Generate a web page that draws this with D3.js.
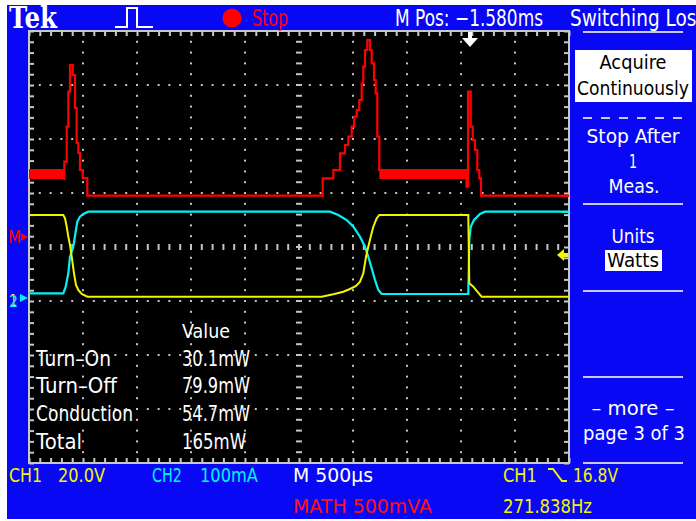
<!DOCTYPE html>
<html>
<head>
<meta charset="utf-8">
<script src="https://cdn.jsdelivr.net/npm/d3@7"></script>
<style>
  body { margin: 0; background: #fff; }
  text { font-family: "DejaVu Sans", sans-serif; }
</style>
</head>
<body>
<div id="scope"></div>
<script>
// traces, in divisions: x 0..10 (500us/div), y -4..4 from centre
var mathTrace = [[0.640,1.259],[0.654,1.580],[0.698,2.228],[0.728,2.876],[0.759,3.370],[0.809,3.185],
    [0.852,2.574],[0.883,1.926],[0.913,1.741],[0.944,1.426],[0.994,1.278],[1.080,0.950],
    [5.439,1.272],[5.635,1.426],[5.759,1.735],[5.852,1.889],[5.913,2.043],[5.976,2.228],
    [6.019,2.413],[6.069,2.537],[6.117,2.722],[6.161,3.031],[6.191,3.339],[6.222,3.648],
    [6.265,3.833],[6.315,3.648],[6.346,3.402],[6.389,3.093],[6.420,2.846],[6.450,2.043],
    [6.487,1.426],[8.102,1.117],[8.130,2.876],[8.180,2.228],[8.217,1.981],[8.259,1.796],
    [8.302,1.426],[8.339,1.272],[8.370,0.950],[10,0.950]];
// conduction band of the math trace: [x0, x1, yLow, yHigh]
var mathBands = [[0,0.654,1.259,1.444],[6.487,8.102,1.259,1.444]];

var ch1Trace = [[0,0.593],[0.635,0.593],[0.667,0.531],[0.698,0.376],[0.728,0.191],[0.759,0.037],
    [0.791,-0.180],[0.833,-0.487],[0.870,-0.704],[0.913,-0.796],[0.976,-0.870],[1.080,-0.920],
    [5.420,-0.920],[5.635,-0.876],[5.820,-0.828],[5.944,-0.778],[6.056,-0.722],[6.130,-0.643],
    [6.191,-0.487],[6.241,-0.180],[6.283,0.006],[6.328,0.191],[6.376,0.376],[6.439,0.531],
    [6.487,0.593],[8.135,0.593],[8.154,-0.672],[8.228,-0.735],[8.302,-0.828],[8.383,-0.920],[10,-0.920]];

var ch2Trace = [[0,-0.857],[0.635,-0.857],[0.680,-0.735],[0.728,-0.487],[0.759,-0.180],[0.820,0.006],
    [0.870,0.315],[0.894,0.469],[0.944,0.561],[1.006,0.611],[1.098,0.654],[5.574,0.654],
    [5.728,0.593],[5.883,0.5],[6.006,0.376],[6.130,0.191],[6.222,0.006],[6.283,-0.180],
    [6.346,-0.394],[6.407,-0.611],[6.469,-0.796],[6.531,-0.870],[8.135,-0.870],[8.154,0.130],
    [8.180,0.376],[8.241,0.5],[8.352,0.611],[8.444,0.654],[10,0.654]];

var measNames = ["Turn\u2013On", "Turn\u2013Off", "Conduction", "Total"];
var measValues = ["30.1mW", "79.9mW", "54.7mW", "165mW"];

var svgWidth = 696;
var svgHeight = 521;
var BLUE = "#0808f4";
var MENU = "#c8c8ec";

var svg = d3.select("#scope")
    .append("svg")
    .attr("width", svgWidth)
    .attr("height", svgHeight);

svg.append("rect").attr("x", 7).attr("y", 5).attr("width", 689).attr("height", 514).attr("fill", BLUE);

var x = d3.scaleLinear().domain([0, 10]).range([29, 569]);
var y = d3.scaleLinear().domain([-4, 4]).range([463, 31]);

svg.append("rect")
    .attr("x", x(0)).attr("y", y(4))
    .attr("width", x(10) - x(0)).attr("height", y(-4) - y(4))
    .attr("fill", "#000");

// graticule dots
var grid = svg.append("g").attr("fill", "#c4c4c4");
var xMinor = x.ticks(50), yMinor = y.ticks(40);
d3.range(1, 10).filter(d => d !== 5).forEach(function(v) {
    yMinor.forEach(function(t) {
        grid.append("rect").attr("x", x(v) - 1).attr("y", y(t) - 1).attr("width", 2).attr("height", 2);
    });
});
d3.range(-3, 4).filter(d => d !== 0).forEach(function(v) {
    xMinor.forEach(function(t) {
        grid.append("rect").attr("x", x(t) - 1).attr("y", y(v) - 1).attr("width", 2).attr("height", 2);
    });
});
xMinor.forEach(function(t) {
    grid.append("rect").attr("x", x(t) - 1).attr("y", y(0) - 3).attr("width", 2).attr("height", 6);
});
yMinor.forEach(function(t) {
    grid.append("rect").attr("x", x(5) - 3).attr("y", y(t) - 1).attr("width", 6).attr("height", 2);
});

// edge ticks using axes
function edge(axis, tx, ty) {
    var g = svg.append("g")
        .attr("transform", `translate(${tx}, ${ty})`)
        .call(axis.tickSize(-5).tickFormat(""));
    g.select(".domain").remove();
    g.selectAll("line").attr("stroke", "#c8c8c8").attr("stroke-width", 2);
}
edge(d3.axisTop(x).ticks(50), 0, y(4));
edge(d3.axisBottom(x).ticks(50), 0, y(-4));
edge(d3.axisLeft(y).ticks(40), x(0), 0);
edge(d3.axisRight(y).ticks(40), x(10), 0);

svg.append("rect")
    .attr("x", x(0)).attr("y", y(4))
    .attr("width", x(10) - x(0)).attr("height", y(-4) - y(4))
    .attr("fill", "none").attr("stroke", "#c8c8c8").attr("stroke-width", 2);

// traces
var line = d3.line().x(d => x(d[0])).y(d => y(d[1]));
var stepLine = d3.line().x(d => x(d[0])).y(d => y(d[1])).curve(d3.curveStepAfter);

svg.append("path").datum(ch2Trace).attr("d", line)
    .attr("fill", "none").attr("stroke", "#00f4f4").attr("stroke-width", 2.2);
svg.append("path").datum(ch1Trace).attr("d", line)
    .attr("fill", "none").attr("stroke", "#f4f400").attr("stroke-width", 2);

svg.selectAll(".band").data(mathBands).enter().append("rect")
    .attr("x", d => x(d[0])).attr("y", d => y(d[3]))
    .attr("width", d => x(d[1]) - x(d[0])).attr("height", d => y(d[2]) - y(d[3]))
    .attr("fill", "#ff0000");
svg.append("path").datum(mathTrace).attr("d", stepLine)
    .attr("fill", "none").attr("stroke", "#ff0000").attr("stroke-width", 2.2);

// text helper
function label(txt, tx, ty, w, size, color, anchor, weight, family) {
    var t = svg.append("text")
        .attr("x", tx).attr("y", ty)
        .attr("font-size", size)
        .attr("fill", color)
        .attr("text-anchor", anchor || "start")
        .text(txt);
    if (w) t.attr("textLength", w).attr("lengthAdjust", "spacingAndGlyphs");
    if (weight) t.attr("font-weight", weight);
    if (family) t.style("font-family", family);
    return t;
}

// top bar
label("Tek", 9, 28, 48, 29, "#fff", "start", "bold", "'DejaVu Serif', serif");
svg.append("path").attr("d", "M115,27H127V8H137V27H153")
    .attr("fill", "none").attr("stroke", "#fff").attr("stroke-width", 2);
svg.append("circle").attr("cx", 232).attr("cy", 18).attr("r", 9.5).attr("fill", "#ff0000");
label("Stop", 252, 26, 36, 23, "#ff0000");
label("M Pos: \u22121.580ms", 395, 26, 148, 23, "#fff");
label("Switching Loss", 570, 26, 136, 23, "#fff");

// trigger position arrow
svg.append("path").attr("d", "M468,32H472V38H478L470,47L462,38H468Z").attr("fill", "#fff");

// left markers
label("M", 8, 243, 13, 18, "#ff0000");
svg.append("path").attr("d", "M21,233L28,237L21,241Z").attr("fill", "#ff0000");
label("1", 10, 306, 7, 16, "#f4f400");
label("2", 9, 307, 9, 16, "#00f4f4");
svg.append("path").attr("d", "M20,294L28,298L20,302Z").attr("fill", "#00f4f4");

// right markers
svg.append("rect").attr("x", 561).attr("y", 195).attr("width", 8).attr("height", 2).attr("fill", "#ff0000");
svg.append("rect").attr("x", 561).attr("y", 211).attr("width", 8).attr("height", 2).attr("fill", "#00f4f4");
svg.append("path").attr("d", "M557,255L564,249V253H568V257H564V261Z").attr("fill", "#f4f400");

// measurement table
label("Value", 182, 338, 48, 20, "#fff");
measNames.forEach(function(n, i) {
    var by = [366, 393, 421, 449][i];
    label(n, 36, by, [75, 81, 97, 46][i], 21, "#fff");
    label(measValues[i], 182, by, [68, 68, 68, 64][i], 21, "#fff");
});

// right menu
svg.append("line").attr("x1", 583).attr("x2", 683).attr("y1", 32).attr("y2", 32)
    .attr("stroke", MENU).attr("stroke-width", 2);
svg.append("rect").attr("x", 575).attr("y", 50).attr("width", 117).attr("height", 52).attr("fill", "#fff");
label("Acquire", 633, 69, 67, 20, "#000", "middle");
label("Continuously", 633, 95, 112, 20, "#000", "middle");
svg.append("line").attr("x1", 583).attr("x2", 683).attr("y1", 118).attr("y2", 118)
    .attr("stroke", MENU).attr("stroke-width", 2).attr("stroke-dasharray", "9,9");
label("Stop After", 633, 143, 93, 20, "#fff", "middle");
label("1", 633, 168, 8, 20, "#fff", "middle");
label("Meas.", 634, 193, 51, 20, "#fff", "middle");
[204, 291, 377, 463].forEach(function(ly) {
    svg.append("line").attr("x1", 583).attr("x2", 683).attr("y1", ly).attr("y2", ly)
        .attr("stroke", MENU).attr("stroke-width", 2);
});
label("Units", 633, 243, 43, 20, "#fff", "middle");
svg.append("rect").attr("x", 605).attr("y", 250).attr("width", 57).attr("height", 21).attr("fill", "#fff");
label("Watts", 633, 267, 52, 20, "#000", "middle");
label("\u2013 more \u2013", 633, 415, 83, 20, "#fff", "middle");
label("page 3 of 3", 634, 440, 102, 20, "#fff", "middle");

// bottom readouts
label("CH1", 9, 482, 33, 19, "#f4f400");
label("20.0V", 58, 482, 47, 19, "#f4f400");
label("CH2", 152, 482, 30, 19, "#00f4f4");
label("100mA", 200, 482, 58, 19, "#00f4f4");
label("M 500\u00b5s", 293, 482, 80, 19, "#fff");
label("MATH 500mVA", 293, 513, 139, 19, "#ff1010");
label("CH1", 503, 482, 34, 19, "#f4f400");
svg.append("path").attr("d", "M548,469H553L562,481H567")
    .attr("fill", "none").attr("stroke", "#f4f400").attr("stroke-width", 2);
label("16.8V", 573, 482, 45, 19, "#f4f400");
label("271.838Hz", 503, 513, 89, 19, "#f4f400");
</script>
</body>
</html>
